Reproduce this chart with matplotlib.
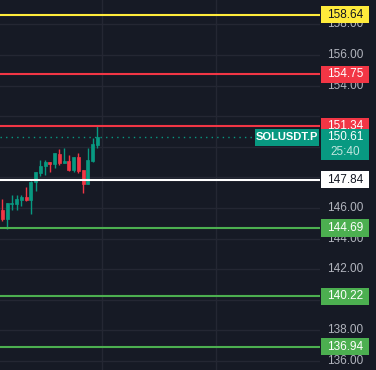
import numpy as np
import matplotlib.pyplot as plt
from matplotlib.patches import Rectangle
import matplotlib.transforms as mtransforms

plt.rcParams['font.family'] = ['Liberation Sans', 'DejaVu Sans']

# bougies (OHLC)
opens = [145.87, 145.30, 146.26, 146.29, 146.55, 146.72, 146.55, 147.67, 148.26, 148.72, 149.03,
         148.85, 149.53, 148.92, 149.09, 148.48, 149.36, 148.48, 147.56, 149.09, 150.10]
closes = [145.25, 146.31, 146.35, 146.59, 146.72, 146.55, 147.73, 148.33, 148.76, 149.03, 148.85,
          149.57, 148.92, 149.07, 148.48, 149.36, 148.43, 147.56, 149.14, 150.15, 150.61]
highs = [146.57, 146.31, 146.86, 146.86, 146.83, 147.38, 147.78, 148.37, 149.14, 149.16, 149.03,
         149.62, 149.84, 149.90, 149.49, 149.36, 149.62, 148.48, 149.90, 150.56, 151.33]
lows = [145.15, 144.60, 145.87, 145.87, 146.13, 146.46, 145.63, 147.12, 148.11, 148.17, 148.37,
        148.59, 148.81, 148.92, 148.43, 148.33, 148.30, 147.01, 147.56, 148.98, 149.92]

# niveaux horizontaux
levels = [158.64, 154.75, 151.34, 147.84, 144.69, 140.22, 136.94]
level_colors = ['#ffeb3b', '#f23645', '#f23645', '#ffffff', '#4caf50', '#4caf50', '#4caf50']
level_text = ['#131722', '#ffffff', '#ffffff', '#131722', '#ffffff', '#ffffff', '#ffffff']

last_price = 150.61
countdown = '25:40'
symbol = 'SOLUSDT.P'
tick_vals = [158, 156, 154, 146, 144, 142, 138, 136]
grid_vals = np.arange(136, 160, 2)
vgrid = [21, 45]

bg = '#161a25'
up = '#089981'
down = '#f23645'

fig = plt.figure(figsize=(3.76, 3.70), dpi=100, facecolor=bg)
ax = fig.add_axes([0, 0, 320/376, 1])
ax.set_facecolor(bg)
for s in ax.spines.values():
    s.set_visible(False)
ax.set_xticks([])
ax.set_yticks([])
ax.set_xlim(-0.48, 66.89)
ax.set_ylim(135.41, 159.595)

for g in grid_vals:
    ax.axhline(g, color='#242733', lw=1, zorder=0)
for v in vgrid:
    ax.axvline(v, color='#242733', lw=1, zorder=0)

for i in range(len(opens)):
    c = up if closes[i] >= opens[i] else down
    ax.vlines(i, lows[i], highs[i], color=c, lw=1, zorder=3)
    lo = min(opens[i], closes[i])
    h = max(abs(closes[i] - opens[i]), 0.05)
    ax.add_patch(Rectangle((i - 0.32, lo), 0.64, h, facecolor=c, edgecolor=c, lw=0.5, zorder=4))

for lv, col in zip(levels, level_colors):
    ax.axhline(lv, color=col, lw=1.5, zorder=5)

ax.axhline(last_price, xmax=254/320, color=up, lw=1, ls=(0, (1, 3)), zorder=2)

tr = mtransforms.blended_transform_factory(ax.transAxes, ax.transData)
half = 0.56
for t in tick_vals:
    ax.text(1.078, t, f'{t:.2f}', transform=tr, ha='center', va='center',
            color='#b2b5be', fontsize=8.5, clip_on=False, zorder=6)

for lv, col, tc in zip(levels, level_colors, level_text):
    ax.add_patch(Rectangle((1.003, lv - half), 0.15, 2 * half, transform=tr,
                           facecolor=col, edgecolor='none', clip_on=False, zorder=7))
    ax.text(1.078, lv, f'{lv:.2f}', transform=tr, ha='center', va='center',
            color=tc, fontsize=8.5, clip_on=False, zorder=8)

# étiquette du prix courant
ax.add_patch(Rectangle((1.003, last_price - 1.5), 0.15, 2.08, transform=tr,
                       facecolor=up, edgecolor='none', clip_on=False, zorder=7))
ax.text(1.078, last_price, f'{last_price:.2f}', transform=tr, ha='center', va='center',
        color='white', fontsize=8.5, clip_on=False, zorder=8)
ax.text(1.078, last_price - 0.98, countdown, transform=tr, ha='center', va='center',
        color='white', alpha=0.75, fontsize=8.5, clip_on=False, zorder=8)
ax.add_patch(Rectangle((255/320, last_price - 0.58), 64/320, 1.16, transform=tr,
                       facecolor=up, edgecolor='none', zorder=7))
ax.text(287/320, last_price, symbol, transform=tr, ha='center', va='center',
        color='white', fontsize=8, fontweight='bold', zorder=8)

fig.savefig('out.png', dpi=100, facecolor=bg)
